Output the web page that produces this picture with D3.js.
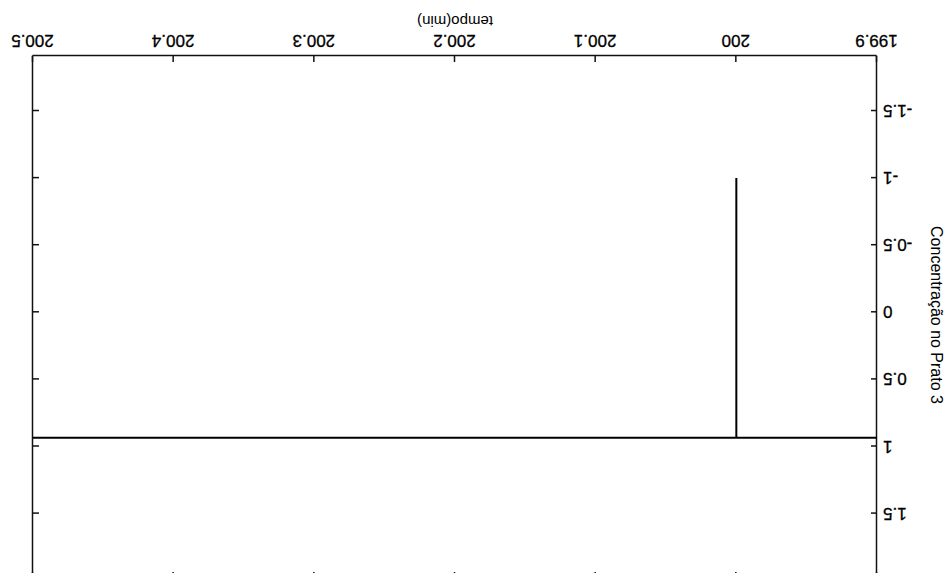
<!DOCTYPE html>
<html>
<head>
<meta charset="utf-8">
<script src="https://cdn.jsdelivr.net/npm/d3@7"></script>
<style>
  body { margin: 0; background: #fff; }
  text { font-family: "Liberation Sans", Arial, sans-serif; fill: #000; }
</style>
</head>
<body>
<div id="chart"></div>
<script>
// data
var tempo = [199.9, 200, 200, 200, 200.5];
var conc = [0.935, 0.935, -1, 0.935, 0.935];
var xTicks = [199.9, 200, 200.1, 200.2, 200.3, 200.4, 200.5];
var yTicks = [-1.5, -1, -0.5, 0, 0.5, 1, 1.5];
var xLabel = "tempo(min)";
var yLabel = "Concentração no Prato 3";

var svgWidth = 951;
var svgHeight = 573;

var svg = d3.select("#chart")
  .append("svg")
  .attr("width", svgWidth)
  .attr("height", svgHeight);

// the whole figure is shown upside down, so draw it normally then turn it
var chartGroup = svg.append("g")
  .attr("transform", "rotate(180," + svgWidth / 2 + "," + svgHeight / 2 + ")");

var plotLeft = 74, plotRight = 918, plotTop = -5, plotBottom = 517;

var xScale = d3.scaleLinear()
  .domain([199.9, 200.5])
  .range([plotLeft, plotRight]);

var yScale = d3.scaleLinear()
  .domain([-1.91, 1.98])
  .range([plotBottom, plotTop]);

function styleAxis(g) {
  g.select(".domain").attr("stroke", "#111").attr("stroke-width", 1.5);
  g.selectAll(".tick line").attr("stroke", "#111").attr("stroke-width", 1.5);
  g.selectAll(".tick text")
    .attr("font-size", 17)
    .attr("font-family", "Liberation Sans, Arial, sans-serif")
    .attr("fill", "#000")
    .attr("stroke", "#000")
    .attr("stroke-width", 0.3);
}

// bottom axis with labels
chartGroup.append("g")
  .attr("transform", "translate(0," + plotBottom + ")")
  .call(d3.axisBottom(xScale).tickValues(xTicks).tickFormat(String)
    .tickSize(-6).tickSizeOuter(0).tickPadding(9))
  .call(styleAxis);

// top axis, ticks only
chartGroup.append("g")
  .attr("transform", "translate(0," + plotTop + ")")
  .call(d3.axisTop(xScale).tickValues(xTicks).tickFormat("")
    .tickSize(-6).tickSizeOuter(0))
  .call(styleAxis);

// left axis with labels
chartGroup.append("g")
  .attr("transform", "translate(" + plotLeft + ",0)")
  .call(d3.axisLeft(yScale).tickValues(yTicks).tickFormat(String)
    .tickSize(-6).tickSizeOuter(0).tickPadding(6))
  .call(styleAxis);

// right axis, ticks only
chartGroup.append("g")
  .attr("transform", "translate(" + plotRight + ",0)")
  .call(d3.axisRight(yScale).tickValues(yTicks).tickFormat("")
    .tickSize(-6).tickSizeOuter(0))
  .call(styleAxis);

// axis titles
chartGroup.append("text")
  .attr("x", (plotLeft + plotRight) / 2)
  .attr("y", 557)
  .attr("text-anchor", "middle")
  .attr("font-size", 15)
  .text(xLabel);

chartGroup.append("text")
  .attr("transform", "translate(20," + 258 + ")rotate(-90)")
  .attr("text-anchor", "middle")
  .attr("font-size", 16)
  .text(yLabel);

// concentration line
var line = d3.line()
  .x(function(d, i) { return xScale(tempo[i]); })
  .y(function(d) { return yScale(d); });

chartGroup.append("path")
  .datum(conc)
  .attr("fill", "none")
  .attr("stroke", "#000")
  .attr("stroke-width", 2)
  .attr("d", line);
</script>
</body>
</html>
